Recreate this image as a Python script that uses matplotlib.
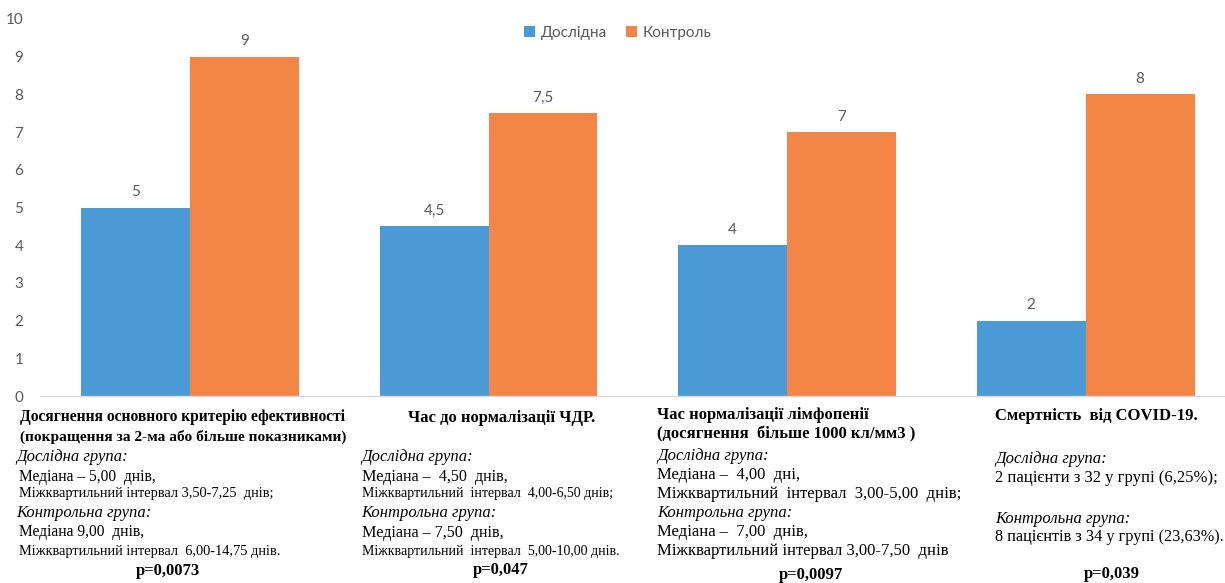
import matplotlib
matplotlib.use("Agg")
import matplotlib.pyplot as plt
import numpy as np

W, H = 1225, 583

categories = ["Досягнення основного критерію ефективності",
              "Час до нормалізації ЧДР.",
              "Час нормалізації лімфопенії",
              "Смертність  від COVID-19."]
series_names = ["Дослідна", "Контроль"]
dosl = [5, 4.5, 4, 2]
kontr = [9, 7.5, 7, 8]
dosl_labels = ["5", "4,5", "4", "2"]
kontr_labels = ["9", "7,5", "7", "8"]
yticks = list(range(0, 11))

BLUE = "#4B9AD6"
ORANGE = "#F38546"
GRAY = "#595959"
SANS = ["Lato", "DejaVu Sans"]
SERIF = ["Liberation Serif", "DejaVu Serif"]

fig = plt.figure(figsize=(W / 100, H / 100), dpi=100)
ax = fig.add_axes([40 / W, 1 - 396 / H, (W - 40) / W, (396 - 19) / H])

x = np.arange(len(categories))
bw = 0.365
b1 = ax.bar(x - bw / 2, dosl, bw, color=BLUE, label=series_names[0])
b2 = ax.bar(x + bw / 2, kontr, bw, color=ORANGE, label=series_names[1])
for bars, labs in ((b1, dosl_labels), (b2, kontr_labels)):
    for r, t in zip(bars, labs):
        ax.annotate(t, (r.get_x() + r.get_width() / 2, r.get_height()),
                    xytext=(0, 11), textcoords="offset points",
                    ha="center", va="center", fontsize=11, color=GRAY,
                    family=SANS)

ax.set_xlim(-0.5025, 3.467)
ax.set_ylim(0, 10)
ax.set_yticks(yticks)
ax.set_yticklabels([str(v) for v in yticks], family=SANS, fontsize=11, color=GRAY)
ax.tick_params(axis="y", length=0, pad=12)
ax.set_xticks([])
for s in ("left", "right", "top"):
    ax.spines[s].set_visible(False)
ax.spines["bottom"].set_color("#D9D9D9")
ax.spines["bottom"].set_linewidth(1)

leg = fig.legend(handles=[b1, b2], labels=series_names, loc="center",
                 bbox_to_anchor=(618 / W, 1 - 33 / H), ncol=2, frameon=False,
                 prop={"family": SANS, "size": 11}, handlelength=0.7,
                 handleheight=0.7, handletextpad=0.4, columnspacing=1.2)
for t in leg.get_texts():
    t.set_color(GRAY)


def txt(px, py, s, size=11, weight="normal", style="normal", ha="left"):
    fig.text(px / W, 1 - py / H, s, fontsize=size, weight=weight, style=style,
             ha=ha, va="center", family=SERIF, color="black")


# Block 1
txt(183, 417, categories[0], 11.2, "bold", ha="center")
txt(183, 437, "(покращення за 2-ма або більше показниками)", 11.1, "bold", ha="center")
txt(16, 457, "Дослідна група:", 12, style="italic")
txt(19, 477, "Медіана – 5,00  днів,", 11.2)
txt(19, 494, "Міжквартильний інтервал 3,50-7,25  днів;", 10.4)
txt(16, 513, "Контрольна група:", 12, style="italic")
txt(19, 532, "Медіана 9,00  днів,", 11.2)
txt(19, 551, "Міжквартильний інтервал  6,00-14,75 днів.", 10.4)
txt(168, 571, "p=0,0073", 12, "bold", ha="center")

# Block 2
txt(502, 418, categories[1], 12, "bold", ha="center")
txt(361, 457, "Дослідна група:", 12, style="italic")
txt(362, 477, "Медіана –  4,50  днів,", 11.6)
txt(362, 494, "Міжквартильний  інтервал  4,00-6,50 днів;", 10)
txt(361, 513, "Контрольна група:", 12, style="italic")
txt(362, 533, "Медіана – 7,50  днів,", 11.6)
txt(362, 551, "Міжквартильний  інтервал  5,00-10,00 днів.", 10)
txt(501, 570, "p=0,047", 12, "bold", ha="center")

# Block 3
txt(657, 415, categories[2], 12, "bold")
txt(657, 434, "(досягнення  більше 1000 кл/мм3 )", 12, "bold")
txt(657, 456, "Дослідна група:", 12, style="italic")
txt(657, 475, "Медіана –  4,00  дні,", 12)
txt(657, 494, "Міжквартильний  інтервал  3,00-5,00  днів;", 12)
txt(657, 513, "Контрольна група:", 12, style="italic")
txt(657, 532, "Медіана –  7,00  днів,", 12)
txt(657, 551, "Міжквартильний інтервал 3,00-7,50  днів", 12)
txt(811, 575, "p=0,0097", 12, "bold", ha="center")

# Block 4
txt(995, 416, categories[3], 12, "bold")
txt(995, 459, "Дослідна група:", 12, style="italic")
txt(995, 478, "2 пацієнти з 32 у групі (6,25%);", 12)
txt(995, 519, "Контрольна група:", 12, style="italic")
txt(995, 537, "8 пацієнтів з 34 у групі (23,63%).", 11.7)
txt(1112, 574, "p=0,039", 12, "bold", ha="center")

fig.savefig("out.png", dpi=100)
